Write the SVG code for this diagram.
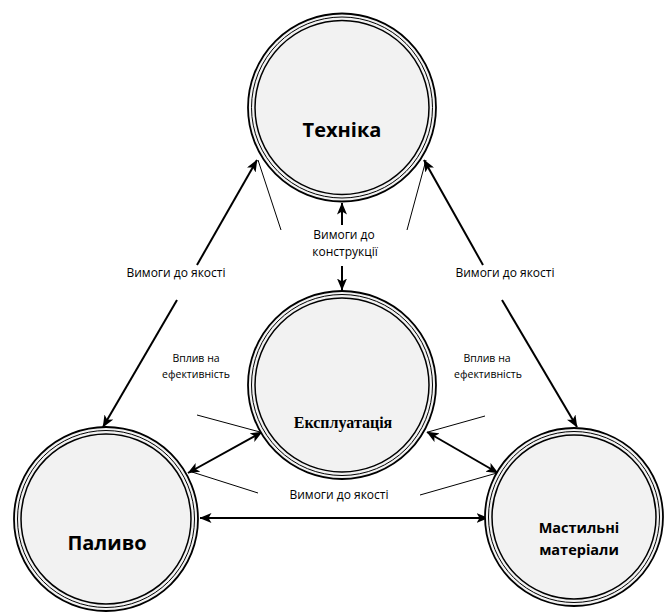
<svg xmlns="http://www.w3.org/2000/svg" width="664" height="612" viewBox="0 0 664 612">
<style>
.bg{fill:#ffffff}
.r1{fill:#f2f2f2;stroke:#000;stroke-width:1.8}
.r2{fill:none;stroke:#000;stroke-width:1}
.r3{fill:none;stroke:#000;stroke-width:1.5}
.thick{fill:none;stroke:#000;stroke-width:2}
.thin{fill:none;stroke:#000;stroke-width:1}
.title{font-family:"Open Sans","DejaVu Sans",sans-serif;font-weight:bold;font-size:20px;fill:#000;text-anchor:middle}
.sub{font-family:"Open Sans","DejaVu Sans",sans-serif;font-weight:bold;font-size:14.5px;fill:#000;text-anchor:middle}
.serif{font-family:"Liberation Serif",serif;font-weight:bold;font-size:16px;fill:#000;text-anchor:middle}
.lbl{font-family:"Open Sans","DejaVu Sans",sans-serif;font-size:12px;fill:#000;text-anchor:middle}
.lbs{font-family:"Open Sans","DejaVu Sans",sans-serif;font-size:10.5px;fill:#000;text-anchor:middle}
</style>
<defs>
<marker id="ah" viewBox="0 0 12 10" refX="11.5" refY="5" markerWidth="12" markerHeight="10" markerUnits="userSpaceOnUse" orient="auto-start-reverse">
<path d="M0,0 L12,5 L0,10 L3,5 z" fill="#000"/>
</marker>
</defs>
<rect class="bg" x="0" y="0" width="664" height="612"/>

<g id="connectors">
<path class="thick" d="M257,160 L197,265" marker-start="url(#ah)"/>
<path class="thick" d="M177,300 L103,427" marker-end="url(#ah)"/>
<path class="thick" d="M424,160 L483,265" marker-start="url(#ah)"/>
<path class="thick" d="M502,300 L577,427" marker-end="url(#ah)"/>
<path class="thick" d="M342,203 L342,225" marker-start="url(#ah)"/>
<path class="thick" d="M342,266 L342,290" marker-end="url(#ah)"/>
<path class="thick" d="M262,432 L188,473" marker-start="url(#ah)" marker-end="url(#ah)"/>
<path class="thick" d="M427,432 L498,473" marker-start="url(#ah)" marker-end="url(#ah)"/>
<path class="thick" d="M200,518 L488,518" marker-start="url(#ah)" marker-end="url(#ah)"/>
<path class="thin" d="M258,160 L281,230"/>
<path class="thin" d="M426,160 L407,230"/>
<path class="thin" d="M197,415 L260,432"/>
<path class="thin" d="M192,472 L258,493"/>
<path class="thin" d="M485,416 L428,432"/>
<path class="thin" d="M420,495 L497,473"/>
<text class="lbl" x="176" y="277">Вимоги до якості</text>
<text class="lbl" x="505" y="277">Вимоги до якості</text>
<text class="lbl" x="344" y="239">Вимоги до</text>
<text class="lbl" x="345" y="256">конструкції</text>
<text class="lbl" x="339" y="499">Вимоги до якості</text>
<text class="lbs" x="196" y="362">Вплив на</text>
<text class="lbs" x="196" y="378">ефективність</text>
<text class="lbs" x="487" y="362">Вплив на</text>
<text class="lbs" x="488" y="378">ефективність</text>
</g>

<g id="tekhnika">
<circle class="r1" cx="342" cy="107.5" r="94"/>
<circle class="r2" cx="342" cy="107.5" r="90.5"/>
<circle class="r3" cx="342" cy="107.5" r="87"/>
<text class="title" x="342" y="137">Техніка</text>
</g>

<g id="ekspluatatsiia">
<circle class="r1" cx="342" cy="385" r="94"/>
<circle class="r2" cx="342" cy="385" r="90.5"/>
<circle class="r3" cx="342" cy="385" r="87"/>
<text class="serif" x="343" y="428">Експлуатація</text>
</g>

<g id="palyvo">
<circle class="r1" cx="106" cy="519" r="92"/>
<circle class="r2" cx="106" cy="519" r="88.5"/>
<circle class="r3" cx="106" cy="519" r="85"/>
<text class="title" x="107" y="550">Паливо</text>
</g>

<g id="mastylni">
<circle class="r1" cx="574" cy="517" r="89"/>
<circle class="r2" cx="574" cy="517" r="85.5"/>
<circle class="r3" cx="574" cy="517" r="82"/>
<text class="sub" x="579" y="533">Мастильні</text>
<text class="sub" x="579" y="555">матеріали</text>
</g>
</svg>
